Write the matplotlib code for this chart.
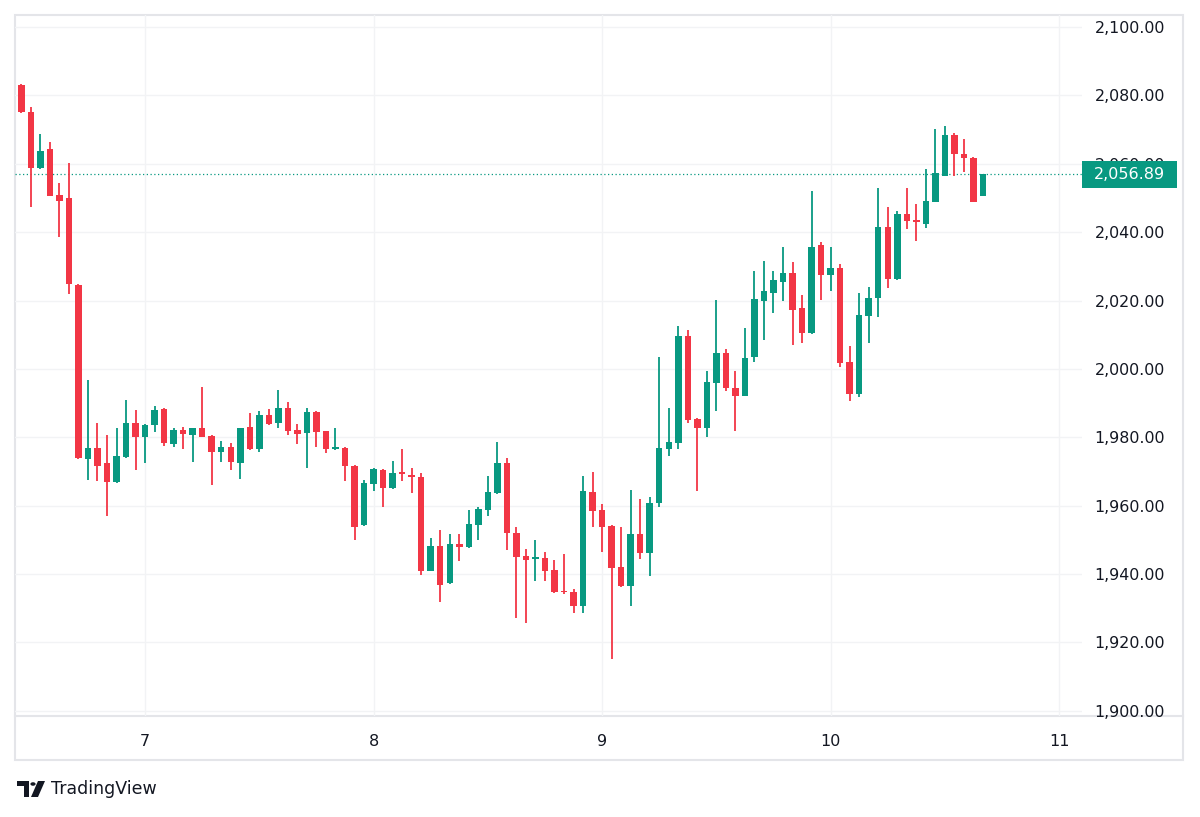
import matplotlib
matplotlib.use('Agg')
import matplotlib.pyplot as plt
import matplotlib.transforms as mtransforms
from matplotlib.patches import Rectangle, Polygon, Circle
from matplotlib.lines import Line2D
import numpy as np

# hourly candles, from day 6 11:00 to day 10 16:00
opens = [2083.0, 2075.0, 2058.8, 2064.3, 2050.9, 2049.9, 2024.5, 1973.6, 1976.8, 1972.4,
         1966.8, 1974.3, 1984.3, 1980.2, 1983.6, 1988.3, 1978.0, 1982.2, 1980.7, 1982.6,
         1980.5, 1975.8, 1977.3, 1972.6, 1983.1, 1976.5, 1986.5, 1984.1, 1988.7, 1982.0,
         1981.2, 1987.5, 1981.7, 1976.6, 1977.0, 1971.6, 1954.4, 1966.4, 1970.5, 1965.1,
         1969.7, 1969.0, 1968.3, 1941.0, 1948.3, 1937.3, 1948.7, 1947.8, 1954.4, 1958.6,
         1963.6, 1972.4, 1951.9, 1945.3, 1944.5, 1944.6, 1941.2, 1935.0, 1934.7, 1930.7,
         1963.9, 1958.8, 1954.2, 1942.2, 1936.4, 1951.7, 1946.3, 1960.7, 1976.6, 1978.3,
         2009.7, 1985.4, 1982.7, 1996.0, 2004.6, 1994.5, 1992.2, 2003.6, 2019.9, 2022.1,
         2025.5, 2028.0, 2017.9, 2010.4, 2036.1, 2027.5, 2029.4, 2001.9, 1992.6, 2015.6,
         2020.7, 2041.6, 2026.2, 2045.2, 2043.3, 2042.4, 2048.9, 2056.5, 2068.4, 2062.9,
         2061.6, 2050.7]
highs = [2083.3, 2076.5, 2068.7, 2066.5, 2054.3, 2060.1, 2024.8, 1996.7, 1984.3, 1980.7,
         1982.6, 1990.9, 1988.0, 1983.8, 1989.1, 1988.5, 1982.8, 1983.1, 1982.8, 1994.6,
         1980.7, 1979.0, 1978.3, 1982.8, 1987.2, 1987.8, 1988.2, 1993.9, 1990.4, 1983.9,
         1988.5, 1987.7, 1981.9, 1982.6, 1977.2, 1971.8, 1967.5, 1970.9, 1970.7, 1973.1,
         1976.6, 1970.9, 1969.5, 1950.5, 1952.9, 1951.7, 1951.8, 1958.8, 1959.7, 1968.7,
         1978.7, 1973.9, 1953.9, 1947.3, 1950.0, 1946.6, 1944.1, 1945.8, 1935.7, 1968.7,
         1969.8, 1960.5, 1954.4, 1953.9, 1964.6, 1962.0, 1962.4, 2003.6, 1988.7, 2012.6,
         2011.4, 1985.6, 1999.4, 2020.2, 2005.8, 1999.4, 2011.9, 2028.7, 2031.7, 2028.7,
         2035.8, 2031.2, 2021.6, 2052.0, 2037.2, 2035.8, 2030.6, 2006.8, 2022.1, 2024.1,
         2052.8, 2047.3, 2046.3, 2053.0, 2048.2, 2058.4, 2070.1, 2071.1, 2068.9, 2067.2,
         2062.1, 2057.0]
lows = [2074.8, 2047.3, 2058.6, 2050.5, 2038.5, 2021.8, 1973.8, 1967.5, 1967.2, 1957.0,
        1966.5, 1974.0, 1970.4, 1972.4, 1981.6, 1977.5, 1977.3, 1976.5, 1972.9, 1980.0,
        1966.1, 1972.9, 1970.3, 1967.7, 1976.3, 1975.8, 1983.6, 1982.6, 1980.7, 1978.1,
        1971.1, 1977.1, 1975.5, 1976.4, 1967.3, 1950.0, 1954.2, 1964.4, 1959.5, 1964.9,
        1967.1, 1963.6, 1939.6, 1940.8, 1931.8, 1937.1, 1943.9, 1947.6, 1950.0, 1957.0,
        1963.4, 1947.1, 1927.3, 1925.8, 1938.1, 1938.1, 1934.5, 1934.2, 1928.7, 1928.5,
        1953.9, 1946.6, 1915.1, 1936.2, 1930.7, 1944.3, 1939.3, 1959.5, 1974.4, 1976.6,
        1984.3, 1964.4, 1980.2, 1987.7, 1993.6, 1981.7, 1992.0, 2002.0, 2008.5, 2016.3,
        2019.9, 2007.0, 2007.5, 2010.2, 2020.2, 2022.9, 2000.5, 1990.7, 1991.9, 2007.7,
        2015.1, 2023.6, 2026.0, 2040.9, 2037.5, 2041.1, 2048.7, 2056.3, 2056.5, 2057.5,
        2048.7, 2050.5]
closes = [2075.0, 2058.8, 2063.8, 2050.7, 2049.2, 2024.8, 1974.0, 1976.8, 1971.7, 1967.0,
          1974.5, 1984.3, 1980.2, 1983.6, 1988.0, 1978.2, 1982.1, 1980.9, 1982.6, 1980.2,
          1975.8, 1977.3, 1972.9, 1982.6, 1976.5, 1986.5, 1983.8, 1988.7, 1981.7, 1981.0,
          1987.5, 1981.5, 1976.6, 1976.8, 1971.7, 1953.9, 1966.6, 1970.7, 1965.1, 1969.5,
          1969.3, 1968.3, 1941.0, 1948.3, 1936.8, 1948.8, 1947.8, 1954.6, 1959.1, 1963.9,
          1972.4, 1952.1, 1945.1, 1944.1, 1944.8, 1941.0, 1934.7, 1934.7, 1930.7, 1964.3,
          1958.5, 1953.9, 1941.9, 1936.4, 1951.7, 1946.3, 1960.9, 1976.8, 1978.6, 2009.7,
          1985.1, 1982.7, 1996.1, 2004.6, 1994.5, 1992.2, 2003.1, 2020.5, 2022.8, 2026.0,
          2028.0, 2017.1, 2010.4, 2035.8, 2027.5, 2029.4, 2001.8, 1992.6, 2015.8, 2020.8,
          2041.6, 2026.2, 2045.2, 2043.4, 2043.0, 2049.1, 2057.2, 2068.4, 2062.8, 2061.6,
          2048.9, 2056.89]

first_hour = -13  # hours relative to day 7 00:00
day_ticks = [0, 24, 48, 72, 96]
day_labels = ['7', '8', '9', '10', '11']
price_ticks = [1900, 1920, 1940, 1960, 1980, 2000, 2020, 2040, 2060, 2080, 2100]
last_price = 2056.89

UP = '#089981'
DOWN = '#F23645'
GRID = '#F2F3F5'
BORDER = '#E4E5E9'
TEXT = '#131722'

plt.rcParams['font.family'] = ['DejaVu Sans']

fig = plt.figure(figsize=(12, 8.17), dpi=100, facecolor='white')
ax = fig.add_axes([15 / 1200, 1 - 716 / 817, (1082 - 15) / 1200, (716 - 15) / 817])
ax.patch.set_visible(False)

x = np.arange(len(opens)) + first_hour
o = np.array(opens)
c = np.array(closes)
colors = [UP if cc >= oo else DOWN for oo, cc in zip(o, c)]

ax.vlines(x, lows, highs, colors=colors, linewidth=1.3, zorder=3)
body_bottom = np.minimum(o, c)
body_h = np.maximum(np.abs(c - o), 0.45)
ax.bar(x, body_h, bottom=body_bottom, width=0.68, color=colors, linewidth=0, zorder=4)

ax.set_xlim(-13.66, 98.4)
ax.set_ylim(1898.5, 2103.5)

ax.set_xticks(day_ticks)
ax.set_xticklabels(day_labels)
ax.set_yticks(price_ticks)
ax.set_yticklabels([f'{p:,.2f}' for p in price_ticks])
ax.yaxis.tick_right()
ax.tick_params(axis='y', length=0, pad=9, labelsize=11.4, labelcolor=TEXT)
ax.tick_params(axis='x', length=0, pad=13, labelsize=11.5, labelcolor=TEXT)
ax.grid(True, color=GRID, linewidth=1.0, zorder=0)
ax.set_axisbelow(True)
for s in ax.spines.values():
    s.set_visible(False)

# last price line and label
ax.axhline(last_price, color=UP, linestyle=(0, (1, 2)), linewidth=0.9, zorder=2)
trans = mtransforms.blended_transform_factory(ax.transAxes, ax.transData)
box_h = 27 / 3.42
ax.add_patch(Rectangle((1.0, last_price - box_h / 2), 95 / 1067, box_h, transform=trans,
                       facecolor=UP, edgecolor='none', clip_on=False, zorder=10))
ax.text(1.0 + 47.5 / 1067, last_price, f'{last_price:,.2f}', transform=trans,
        ha='center', va='center', color='white', fontsize=11.5, zorder=11, clip_on=False)

# outer frame and the date axis separator (drawn under the axes texts)
fig.add_artist(Rectangle((15 / 1200, 1 - 760 / 817), (1183 - 15) / 1200, (760 - 15) / 817,
                         transform=fig.transFigure, fill=False, edgecolor=BORDER,
                         linewidth=1.5, zorder=-2))
fig.add_artist(Line2D([15 / 1200, 1183 / 1200], [1 - 716 / 817, 1 - 716 / 817],
                      transform=fig.transFigure, color=BORDER, linewidth=1.5, zorder=-2))

# TradingView logo
def fx(px):
    return px / 1200


def fy(py):
    return 1 - py / 817


logo = '#131722'
fig.add_artist(Polygon([(fx(17), fy(781)), (fx(29), fy(781)), (fx(29), fy(797)),
                        (fx(24), fy(797)), (fx(24), fy(786)), (fx(17), fy(786))],
                       closed=True, transform=fig.transFigure, facecolor=logo, edgecolor='none'))
fig.add_artist(Circle((fx(33), fy(784)), 2.6 / 1200, transform=fig.transFigure,
                      facecolor=logo, edgecolor='none'))
fig.add_artist(Polygon([(fx(38), fy(781)), (fx(45), fy(781)), (fx(38), fy(797)), (fx(31), fy(797))],
                       closed=True, transform=fig.transFigure, facecolor=logo, edgecolor='none'))
fig.text(fx(51), fy(789), 'TradingView', ha='left', va='center', fontsize=12.5, color=logo)

fig.savefig('out.png', dpi=100, facecolor='white')
